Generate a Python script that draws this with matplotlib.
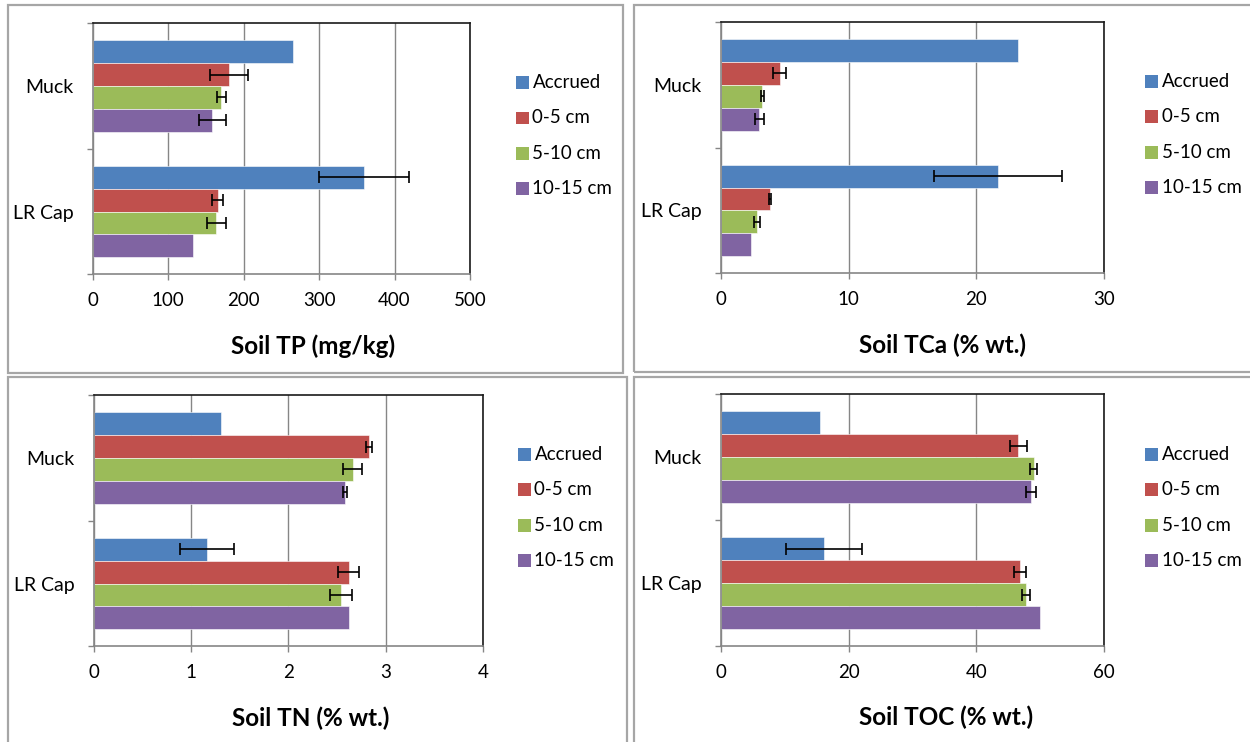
import matplotlib
matplotlib.use("Agg")
import matplotlib.pyplot as plt
from matplotlib.patches import Rectangle
import numpy as np

plt.rcParams['font.family'] = ['Lato', 'DejaVu Sans']

categories = ["Muck", "LR Cap"]
series = ["Accrued", "0-5 cm", "5-10 cm", "10-15 cm"]
colors = ["#4F81BD", "#C0504D", "#9BBB59", "#8064A2"]

# values per series: [Muck, LR Cap]
tp_vals = [[265.6, 359.5], [180.8, 165.4], [170.0, 163.8], [158.5, 133.0]]
tp_errs = [[None, 59.4], [25.0, 7.5], [6.0, 12.7], [18.0, None]]

tca_vals = [[23.3, 21.7], [4.6, 3.82], [3.23, 2.82], [3.0, 2.32]]
tca_errs = [[None, 5.0], [0.52, 0.08], [0.13, 0.2], [0.36, None]]

tn_vals = [[1.31, 1.165], [2.83, 2.62], [2.66, 2.54], [2.58, 2.62]]
tn_errs = [[None, 0.28], [0.035, 0.11], [0.1, 0.115], [0.02, None]]

toc_vals = [[15.5, 16.2], [46.6, 46.8], [49.0, 47.8], [48.6, 50.0]]
toc_errs = [[None, 5.95], [1.35, 0.95], [0.5, 0.6], [0.8, None]]

W, H = 1250, 742
fig = plt.figure(figsize=(W / 100, H / 100), dpi=100)


def fx(x):
    return x / W


def fy(y):
    return 1 - y / H


# panel frames
frames = [(8, 5, 623, 373), (634, 5, 1252, 372), (8, 377, 627, 750), (634, 377, 1252, 750)]
for (x0, y0, x1, y1) in frames:
    fig.patches.append(Rectangle((fx(x0), fy(y1)), fx(x1) - fx(x0), fy(y0) - fy(y1),
                                 transform=fig.transFigure, fill=False,
                                 edgecolor="#A6A6A6", linewidth=1.6))

panels = [
    dict(vals=tp_vals, errs=tp_errs, xmax=500, step=100, title="Soil TP (mg/kg)",
         ax=(92.8, 23.3, 470, 274.3), tx=313, ty=346.7, lx=516, ly=82.7),
    dict(vals=tca_vals, errs=tca_errs, xmax=30, step=10, title="Soil TCa (% wt.)",
         ax=(721, 22, 1103.8, 273.3), tx=942.6, ty=345, lx=1145, ly=81.7),
    dict(vals=tn_vals, errs=tn_errs, xmax=4, step=1, title="Soil TN (% wt.)",
         ax=(94, 395.3, 482.8, 646.3), tx=311, ty=718.7, lx=518, ly=454.7),
    dict(vals=toc_vals, errs=toc_errs, xmax=60, step=20, title="Soil TOC (% wt.)",
         ax=(721, 394, 1103.8, 646.3), tx=945.8, ty=717, lx=1145, ly=454.7),
]

ypos = np.array([1.0, 0.0])  # Muck on top
h = 0.182
offsets = [1.5 * h, 0.5 * h, -0.5 * h, -1.5 * h]

for p in panels:
    x0, y0, x1, y1 = p["ax"]
    ax = fig.add_axes([fx(x0), fy(y1), fx(x1) - fx(x0), fy(y0) - fy(y1)])
    for i, s in enumerate(series):
        yy = ypos + offsets[i]
        ax.barh(yy, p["vals"][i], height=h, color=colors[i], edgecolor="white",
                linewidth=0.4, zorder=2)
        for j in range(len(categories)):
            e = p["errs"][i][j]
            if e is not None:
                ax.errorbar(p["vals"][i][j], yy[j], xerr=e, fmt="none", ecolor="black",
                            elinewidth=1.2, capsize=4, capthick=1.2, zorder=3)
    ax.set_xlim(0, p["xmax"])
    ax.set_ylim(-0.5, 1.5)
    ax.set_xticks(np.arange(0, p["xmax"] + p["step"] / 2, p["step"]))
    ax.set_yticks(ypos)
    ax.set_yticklabels(categories)
    ax.set_yticks([-0.5, 0.5, 1.5], minor=True)
    ax.tick_params(axis="y", which="major", length=0, pad=14, labelsize=14)
    ax.tick_params(axis="y", which="minor", length=4, width=1, color="#868686", direction="out")
    ax.tick_params(axis="x", which="major", length=4, width=1, color="#868686", direction="out",
                   pad=9, labelsize=13.5)
    ax.grid(axis="x", color="#868686", linewidth=1, zorder=0)
    ax.set_axisbelow(True)
    for side in ["left", "bottom"]:
        ax.spines[side].set_color("#868686")
        ax.spines[side].set_linewidth(1.2)
    for side in ["top", "right"]:
        ax.spines[side].set_color("#1a1a1a")
        ax.spines[side].set_linewidth(1.2)
    fig.text(fx(p["tx"]), fy(p["ty"]), p["title"], ha="center", va="center",
             fontsize=17.5, fontweight="bold")
    # legend
    for i, s in enumerate(series):
        cy = p["ly"] + i * 35.2
        fig.patches.append(Rectangle((fx(p["lx"]), fy(cy + 6.4)), fx(12.8), 12.8 / H,
                                     transform=fig.transFigure, facecolor=colors[i],
                                     edgecolor="none"))
        fig.text(fx(p["lx"] + 16.5), fy(cy), s, ha="left", va="center", fontsize=13.5)

fig.savefig("out.png", dpi=100)
